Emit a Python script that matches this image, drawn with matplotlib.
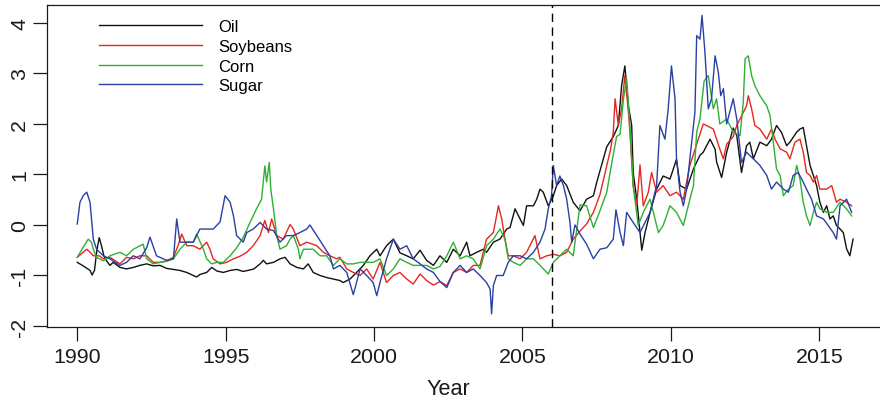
import matplotlib
matplotlib.use('Agg')
import matplotlib.pyplot as plt

# standardised commodity prices, read roughly every couple of months
oil_years = [1990.00, 1990.20, 1990.43, 1990.50, 1990.58, 1990.66, 1990.74, 1990.82, 1990.90, 1991.00,
             1991.10, 1991.21, 1991.44, 1991.66, 1991.89, 1992.11, 1992.34, 1992.56, 1992.79, 1993.01,
             1993.24, 1993.46, 1993.69, 1993.91, 1994.02, 1994.13, 1994.36, 1994.53, 1994.70, 1994.92,
             1995.15, 1995.37, 1995.59, 1995.82, 1995.95, 1996.16, 1996.27, 1996.38, 1996.61, 1996.83,
             1997.00, 1997.17, 1997.40, 1997.62, 1997.78, 1997.95, 1998.18, 1998.40, 1998.63, 1998.85,
             1998.96, 1999.19, 1999.41, 1999.64, 1999.86, 2000.09, 2000.20, 2000.42, 2000.65, 2000.87,
             2001.10, 2001.32, 2001.55, 2001.77, 2002.00, 2002.22, 2002.45, 2002.67, 2002.90, 2003.12,
             2003.23, 2003.46, 2003.68, 2003.79, 2004.02, 2004.24, 2004.47, 2004.58, 2004.75, 2004.92,
             2005.03, 2005.14, 2005.37, 2005.48, 2005.59, 2005.70, 2005.87, 2006.04, 2006.15, 2006.32,
             2006.49, 2006.71, 2006.94, 2007.16, 2007.39, 2007.50, 2007.72, 2007.84, 2008.06, 2008.23,
             2008.34, 2008.45, 2008.57, 2008.68, 2008.73, 2008.85, 2008.96, 2009.02, 2009.13, 2009.30,
             2009.52, 2009.74, 2009.97, 2010.19, 2010.31, 2010.53, 2010.76, 2010.98, 2011.09, 2011.32,
             2011.49, 2011.54, 2011.65, 2011.71, 2011.88, 2012.10, 2012.22, 2012.38, 2012.55, 2012.66,
             2012.78, 2013.00, 2013.23, 2013.39, 2013.56, 2013.73, 2013.90, 2014.01, 2014.24, 2014.35,
             2014.46, 2014.57, 2014.69, 2014.80, 2014.91, 2015.02, 2015.14, 2015.25, 2015.36, 2015.47,
             2015.58, 2015.70, 2015.81, 2015.92, 2016.03, 2016.14]
oil = [-0.74, -0.81, -0.90, -0.99, -0.90, -0.50, -0.25, -0.42, -0.62, -0.72,
       -0.80, -0.74, -0.84, -0.87, -0.84, -0.80, -0.77, -0.81, -0.80, -0.86,
       -0.88, -0.90, -0.94, -1.00, -1.03, -0.98, -0.94, -0.84, -0.91, -0.94,
       -0.90, -0.88, -0.92, -0.89, -0.87, -0.77, -0.70, -0.77, -0.74, -0.67,
       -0.64, -0.77, -0.84, -0.87, -0.77, -0.94, -1.00, -1.04, -1.07, -1.10,
       -1.14, -1.07, -0.94, -0.80, -0.61, -0.48, -0.61, -0.41, -0.28, -0.55,
       -0.61, -0.67, -0.50, -0.70, -0.80, -0.61, -0.74, -0.48, -0.61, -0.34,
       -0.61, -0.54, -0.48, -0.54, -0.34, -0.28, -0.08, -0.05, 0.32, 0.12,
       -0.01, 0.38, 0.38, 0.51, 0.71, 0.65, 0.38, 0.58, 0.78, 0.91,
       0.78, 0.45, 0.28, 0.51, 0.58, 0.84, 1.30, 1.55, 1.75, 1.97,
       2.76, 3.15, 2.36, 1.97, 1.04, 0.51, -0.15, -0.50, -0.15, 0.25,
       0.71, 0.97, 0.91, 1.30, 0.78, 0.71, 1.11, 1.38, 1.44, 1.70,
       1.50, 1.25, 1.05, 0.94, 1.44, 1.92, 1.77, 1.04, 1.57, 1.64,
       1.31, 1.64, 1.57, 1.70, 1.97, 1.83, 1.57, 1.64, 1.84, 1.90,
       1.93, 1.57, 1.18, 0.98, 0.78, 0.45, 0.25, 0.38, 0.12, 0.18,
       -0.01, -0.08, -0.15, -0.47, -0.61, -0.28]

soy_years = [1990.00, 1990.32, 1990.43, 1990.54, 1990.74, 1990.88, 1991.10, 1991.44, 1991.66, 1991.89,
             1992.11, 1992.34, 1992.56, 1992.79, 1993.01, 1993.24, 1993.40, 1993.52, 1993.69, 1993.91,
             1994.13, 1994.36, 1994.47, 1994.58, 1994.81, 1995.03, 1995.26, 1995.48, 1995.71, 1995.93,
             1996.16, 1996.32, 1996.44, 1996.55, 1996.72, 1996.94, 1997.17, 1997.28, 1997.50, 1997.73,
             1998.07, 1998.29, 1998.51, 1998.74, 1998.85, 1999.08, 1999.30, 1999.53, 1999.75, 1999.97,
             2000.20, 2000.42, 2000.65, 2000.87, 2001.10, 2001.32, 2001.55, 2001.77, 2002.00, 2002.22,
             2002.45, 2002.67, 2002.90, 2003.12, 2003.34, 2003.57, 2003.79, 2004.02, 2004.19, 2004.30,
             2004.41, 2004.52, 2004.69, 2004.92, 2005.14, 2005.42, 2005.59, 2005.82, 2006.04, 2006.26,
             2006.49, 2006.71, 2006.94, 2007.16, 2007.39, 2007.61, 2007.81, 2007.97, 2008.06, 2008.12,
             2008.23, 2008.34, 2008.45, 2008.57, 2008.62, 2008.73, 2008.85, 2008.96, 2009.07, 2009.24,
             2009.35, 2009.52, 2009.74, 2009.97, 2010.19, 2010.42, 2010.64, 2010.87, 2011.09, 2011.20,
             2011.43, 2011.65, 2011.77, 2011.88, 2012.10, 2012.22, 2012.44, 2012.55, 2012.61, 2012.72,
             2012.83, 2013.00, 2013.23, 2013.39, 2013.51, 2013.68, 2013.90, 2014.01, 2014.18, 2014.35,
             2014.46, 2014.57, 2014.69, 2014.80, 2014.91, 2015.02, 2015.25, 2015.42, 2015.58, 2015.70,
             2015.92, 2016.09]
soybeans = [-0.64, -0.48, -0.54, -0.61, -0.61, -0.67, -0.64, -0.77, -0.64, -0.67,
            -0.61, -0.61, -0.74, -0.74, -0.71, -0.64, -0.40, -0.18, -0.41, -0.41,
            -0.48, -0.34, -0.48, -0.67, -0.77, -0.74, -0.67, -0.62, -0.54, -0.41,
            -0.21, 0.09, -0.15, 0.12, -0.21, -0.28, 0.01, -0.08, -0.41, -0.34,
            -0.41, -0.54, -0.61, -0.67, -0.64, -0.87, -0.94, -1.00, -0.87, -1.07,
            -0.74, -1.14, -1.00, -0.94, -1.07, -1.17, -0.97, -1.10, -1.19, -1.12,
            -1.20, -0.94, -0.87, -0.94, -0.80, -0.80, -0.28, -0.15, 0.38, 0.12,
            -0.28, -0.61, -0.61, -0.67, -0.54, -0.21, -0.67, -0.61, -0.58, -0.61,
            -0.54, -0.28, -0.12, 0.02, 0.25, 0.60, 1.10, 1.50, 1.84, 2.50,
            1.97, 2.30, 2.96, 2.23, 1.84, 0.78, 0.38, 1.19, 0.38, 0.65,
            1.04, 0.65, 0.78, 0.58, 0.65, 0.51, 1.18, 1.60, 2.00, 1.97,
            1.90, 1.50, 1.31, 1.60, 1.75, 1.97, 2.23, 2.36, 2.56, 2.30,
            1.97, 1.90, 1.70, 1.90, 1.70, 1.51, 1.44, 1.31, 1.64, 1.70,
            1.44, 1.04, 0.98, 0.85, 0.98, 0.71, 0.71, 0.78, 0.45, 0.51,
            0.45, 0.38]

corn_years = [1990.00, 1990.20, 1990.37, 1990.48, 1990.54, 1990.65, 1990.88, 1991.10, 1991.44, 1991.66,
              1991.89, 1992.22, 1992.34, 1992.56, 1992.79, 1993.01, 1993.24, 1993.46, 1993.69, 1993.91,
              1994.02, 1994.25, 1994.36, 1994.53, 1994.70, 1994.92, 1995.15, 1995.37, 1995.59, 1995.82,
              1996.04, 1996.21, 1996.32, 1996.38, 1996.47, 1996.52, 1996.61, 1996.72, 1996.83, 1997.05,
              1997.17, 1997.28, 1997.45, 1997.50, 1997.62, 1997.95, 1998.18, 1998.40, 1998.63, 1998.85,
              1999.08, 1999.30, 1999.53, 1999.97, 2000.20, 2000.42, 2000.65, 2000.87, 2001.10, 2001.32,
              2001.77, 2002.00, 2002.22, 2002.45, 2002.67, 2002.90, 2003.12, 2003.34, 2003.57, 2003.79,
              2004.02, 2004.24, 2004.41, 2004.52, 2004.69, 2004.92, 2005.14, 2005.37, 2005.59, 2005.87,
              2006.04, 2006.26, 2006.49, 2006.71, 2006.94, 2007.16, 2007.39, 2007.61, 2007.84, 2008.00,
              2008.17, 2008.29, 2008.40, 2008.51, 2008.62, 2008.73, 2008.90, 2009.07, 2009.18, 2009.30,
              2009.41, 2009.58, 2009.74, 2009.97, 2010.19, 2010.42, 2010.53, 2010.76, 2010.87, 2010.98,
              2011.12, 2011.26, 2011.43, 2011.54, 2011.65, 2011.88, 2012.10, 2012.33, 2012.44, 2012.50,
              2012.61, 2012.72, 2012.83, 2013.00, 2013.23, 2013.34, 2013.45, 2013.56, 2013.68, 2013.79,
              2013.96, 2014.12, 2014.24, 2014.35, 2014.46, 2014.57, 2014.69, 2014.80, 2014.91, 2015.02,
              2015.25, 2015.47, 2015.70, 2015.92, 2016.09]
corn = [-0.64, -0.44, -0.28, -0.34, -0.48, -0.64, -0.71, -0.61, -0.54, -0.61,
        -0.48, -0.38, -0.67, -0.77, -0.74, -0.72, -0.67, -0.48, -0.34, -0.34,
        -0.18, -0.48, -0.67, -0.77, -0.74, -0.74, -0.61, -0.45, -0.25, 0.05,
        0.32, 0.51, 1.17, 0.85, 1.24, 0.71, 0.32, -0.21, -0.48, -0.41,
        -0.28, -0.21, -0.48, -0.67, -0.48, -0.48, -0.61, -0.61, -0.80, -0.67,
        -0.77, -0.77, -0.74, -0.74, -0.67, -1.00, -0.87, -0.67, -0.74, -0.80,
        -0.80, -0.87, -0.82, -0.61, -0.34, -0.67, -0.61, -0.67, -0.87, -0.41,
        -0.28, -0.08, -0.28, -0.67, -0.74, -0.80, -0.67, -0.67, -0.80, -0.97,
        -0.74, -0.61, -0.48, -0.61, 0.40, 0.38, -0.05, 0.28, 0.65, 1.20,
        1.75, 1.80, 2.49, 2.89, 1.97, 0.78, -0.01, 0.25, 0.38, 0.51,
        0.25, -0.15, -0.01, 0.38, 0.25, -0.01, 0.25, 0.78, 1.84, 2.10,
        2.85, 2.96, 2.30, 2.50, 2.00, 2.10, 1.84, 1.77, 2.43, 3.29,
        3.35, 2.96, 2.76, 2.56, 2.36, 2.17, 1.64, 1.11, 0.98, 0.58,
        0.71, 0.78, 1.18, 0.91, 0.45, 0.18, -0.01, 0.25, 0.45, 0.32,
        0.25, 0.25, 0.45, 0.32, 0.18]

sugar_years = [1990.00, 1990.09, 1990.20, 1990.32, 1990.43, 1990.54, 1990.65, 1990.88, 1991.10, 1991.44,
               1991.66, 1991.89, 1992.11, 1992.34, 1992.45, 1992.67, 1993.01, 1993.24, 1993.35, 1993.46,
               1993.69, 1993.91, 1994.13, 1994.36, 1994.58, 1994.81, 1994.98, 1995.15, 1995.26, 1995.37,
               1995.59, 1995.71, 1995.93, 1996.16, 1996.38, 1996.61, 1996.83, 1997.05, 1997.28, 1997.50,
               1997.73, 1997.84, 1998.07, 1998.29, 1998.51, 1998.63, 1998.85, 1999.08, 1999.30, 1999.41,
               1999.53, 1999.75, 1999.97, 2000.09, 2000.20, 2000.42, 2000.65, 2000.87, 2001.10, 2001.32,
               2001.55, 2001.77, 2002.00, 2002.22, 2002.45, 2002.67, 2002.90, 2003.12, 2003.34, 2003.57,
               2003.79, 2003.91, 2003.96, 2004.02, 2004.13, 2004.35, 2004.52, 2004.69, 2004.92, 2005.14,
               2005.37, 2005.59, 2005.76, 2005.87, 2005.98, 2006.04, 2006.15, 2006.26, 2006.38, 2006.49,
               2006.60, 2006.66, 2006.77, 2006.94, 2007.16, 2007.39, 2007.61, 2007.84, 2008.06, 2008.15,
               2008.29, 2008.40, 2008.51, 2008.73, 2008.96, 2009.13, 2009.30, 2009.52, 2009.63, 2009.80,
               2009.91, 2010.02, 2010.14, 2010.19, 2010.31, 2010.42, 2010.53, 2010.64, 2010.81, 2010.87,
               2010.98, 2011.05, 2011.15, 2011.26, 2011.37, 2011.49, 2011.60, 2011.68, 2011.77, 2011.88,
               2012.10, 2012.22, 2012.38, 2012.55, 2012.78, 2013.00, 2013.23, 2013.39, 2013.56, 2013.79,
               2013.96, 2014.12, 2014.29, 2014.46, 2014.57, 2014.74, 2014.91, 2015.14, 2015.30, 2015.47,
               2015.58, 2015.70, 2015.92, 2016.09]
sugar = [0.02, 0.45, 0.58, 0.65, 0.45, -0.28, -0.48, -0.61, -0.67, -0.80,
         -0.74, -0.61, -0.67, -0.45, -0.24, -0.61, -0.70, -0.67, 0.12, -0.34,
         -0.34, -0.34, -0.08, -0.08, -0.08, 0.06, 0.58, 0.45, 0.19, -0.21,
         -0.34, -0.15, -0.08, 0.05, -0.08, -0.11, -0.34, -0.21, -0.21, -0.15,
         -0.08, 0.00, -0.21, -0.41, -0.61, -0.87, -0.80, -0.94, -1.38, -1.14,
         -0.87, -1.00, -1.14, -1.40, -1.14, -0.67, -0.28, -0.48, -0.41, -0.67,
         -0.77, -0.87, -0.94, -1.12, -1.24, -0.94, -0.80, -0.94, -0.87, -1.00,
         -1.14, -1.27, -1.76, -1.20, -1.00, -1.00, -0.74, -0.61, -0.61, -0.67,
         -0.54, -0.34, -0.08, 0.32, 0.58, 1.18, 0.78, 0.97, 0.78, 0.51,
         0.05, -0.34, 0.00, -0.18, -0.38, -0.67, -0.48, -0.45, -0.28, 0.30,
         -0.15, -0.41, 0.25, 0.05, -0.15, 0.05, 0.25, 0.78, 1.97, 1.70,
         2.30, 3.15, 2.50, 1.31, 0.65, 0.38, 0.71, 1.31, 2.23, 3.75,
         3.68, 4.15, 3.40, 2.30, 2.50, 3.35, 3.02, 2.56, 2.70, 2.00,
         2.50, 2.10, 1.24, 1.44, 1.31, 1.18, 0.98, 0.71, 0.85, 0.71,
         0.65, 0.98, 1.04, 0.85, 0.71, 0.51, 0.18, 0.12, -0.01, -0.15,
         -0.28, 0.38, 0.51, 0.25]

break_year = 2006
x_ticks = [1990, 1995, 2000, 2005, 2010, 2015]
y_ticks = [-2, -1, 0, 1, 2, 3, 4]

plt.rcParams['font.family'] = ['Liberation Sans', 'DejaVu Sans']
plt.rcParams['axes.unicode_minus'] = False

fig = plt.figure(figsize=(8.8, 4.02), dpi=100)
ax = fig.add_axes([46.7 / 880, 74 / 402, 835.9 / 880, 322 / 402])

series = [
    (oil_years, oil, 'Oil', '#111111'),
    (soy_years, soybeans, 'Soybeans', '#e3281f'),
    (corn_years, corn, 'Corn', '#2fb034'),
    (sugar_years, sugar, 'Sugar', '#2a40a3'),
]
for yrs, vals, name, col in series:
    ax.plot(yrs, vals, color=col, lw=1.0, label=name)

ax.axvline(break_year, color='black', lw=1.0, linestyle=(0, (6, 4)))

ax.set_xlim(1988.97, 1988.97 + 835.9 / 29.68)
ax.set_ylim(-2.02, -2.02 + 322 / 50.5)
ax.set_xticks(x_ticks)
ax.set_yticks(y_ticks)
ax.tick_params(axis='both', direction='out', length=10, width=0.9,
               labelsize=15.4, colors='#1a1a1a')
ax.tick_params(axis='x', pad=4.5)
ax.tick_params(axis='y', pad=2.5, labelrotation=90)
for lbl in ax.get_yticklabels():
    lbl.set_va('center')
for sp in ax.spines.values():
    sp.set_linewidth(0.9)
    sp.set_color('#1a1a1a')

ax.set_xlabel('Year', fontsize=15.6, color='#1a1a1a')
ax.xaxis.set_label_coords(0.481, -0.158)

ax.legend(loc='upper left', bbox_to_anchor=(0.0626, 0.956), frameon=False,
          fontsize=12, handlelength=6.2, handletextpad=0.96, labelspacing=0.28,
          borderaxespad=0, borderpad=0)

fig.savefig('out.png', dpi=100)
